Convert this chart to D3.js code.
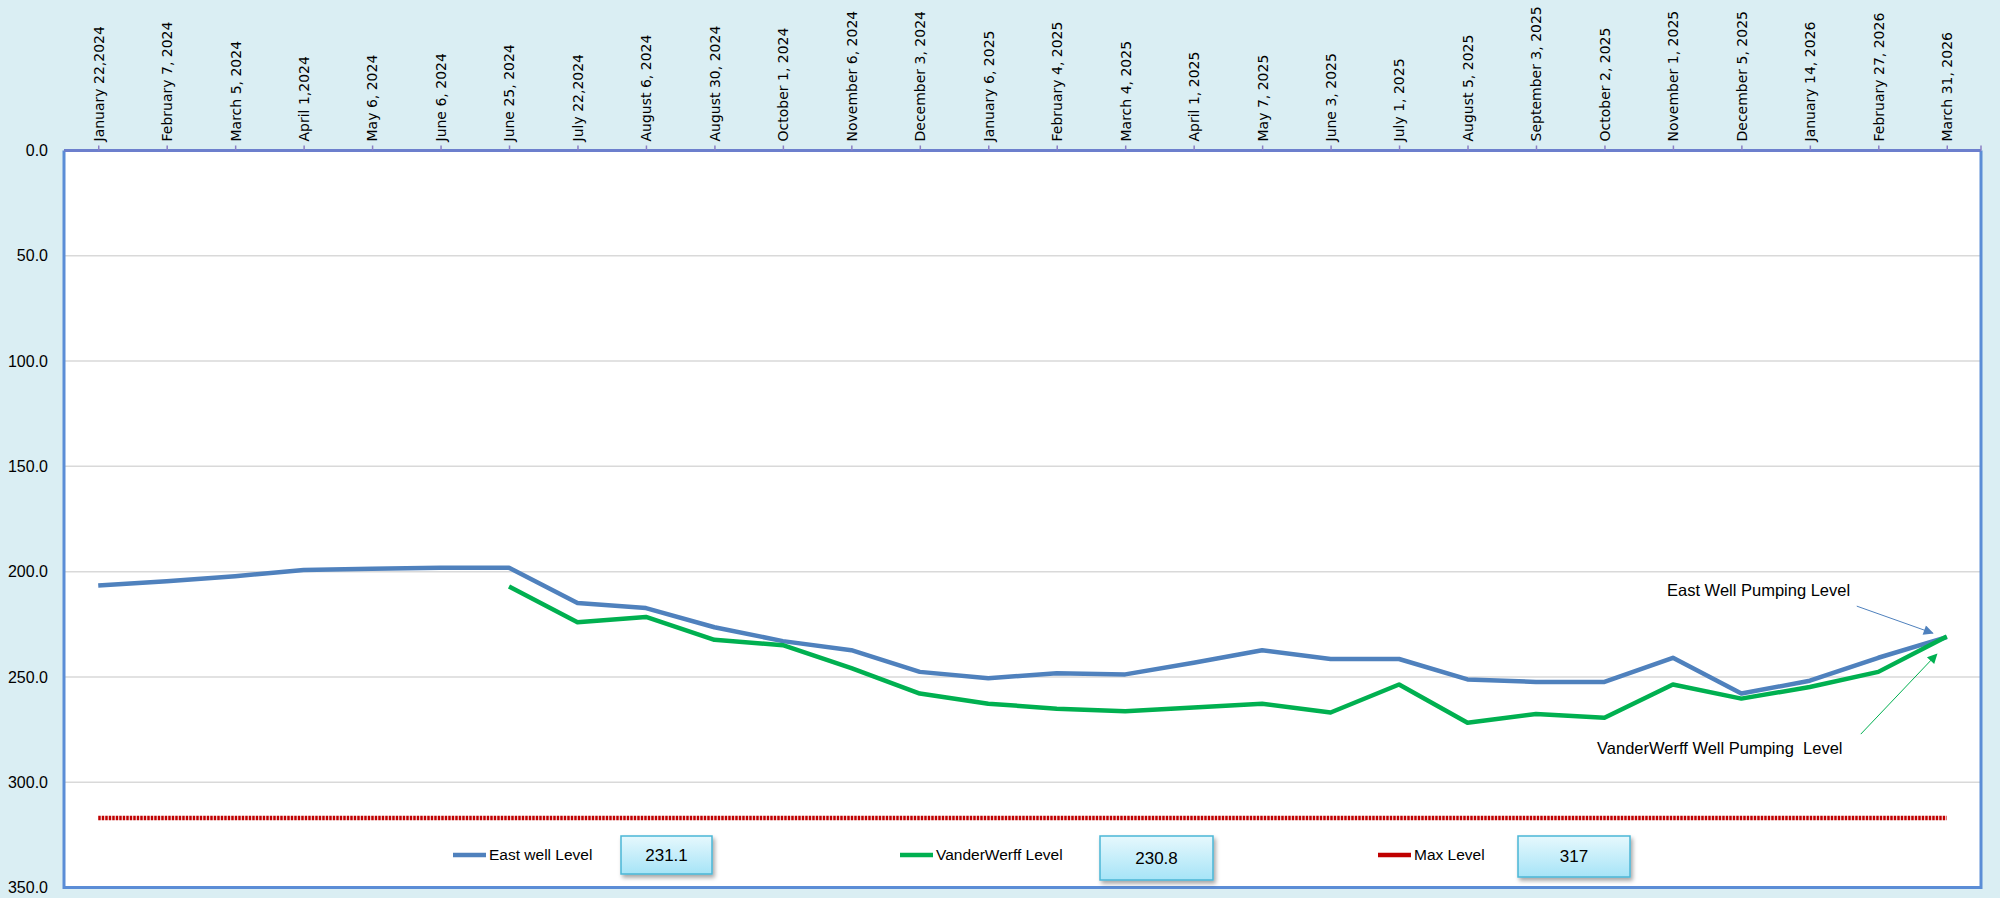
<!DOCTYPE html>
<html>
<head>
<meta charset="utf-8">
<script src="https://cdn.jsdelivr.net/npm/d3@7"></script>
<style>
  body { margin: 0; background: #DAEEF3; }
  svg { display: block; }
</style>
</head>
<body>
<div id="chart"></div>
<script>
// sample dates (category axis on top)
var dates = [
  "January 22,2024", "February 7, 2024", "March 5, 2024", "April 1,2024", "May 6, 2024",
  "June 6, 2024", "June 25, 2024", "July 22,2024", "August 6, 2024", "August 30, 2024",
  "October 1, 2024", "November 6, 2024", "December 3, 2024", "January 6, 2025", "February 4, 2025",
  "March 4, 2025", "April 1, 2025", "May 7, 2025", "June 3, 2025", "July 1, 2025",
  "August 5, 2025", "September 3, 2025", "October 2, 2025", "November 1, 2025", "December 5, 2025",
  "January 14, 2026", "February 27, 2026", "March 31, 2026"
];

// pumping levels (feet below surface)
var eastWell = [206.6, 204.6, 202.2, 199.2, 198.6, 198.2, 198.2, 214.9, 217.3, 226.4,
  233.0, 237.3, 247.6, 250.6, 248.2, 248.8, 243.3, 237.3, 241.5, 241.5,
  251.2, 252.4, 252.4, 240.9, 257.9, 251.8, 240.9, 231.1];
var vanderWerff = [null, null, null, null, null, null, 207.0, 224.0, 221.5, 232.4,
  234.9, 245.8, 257.9, 262.7, 265.1, 266.3, 264.5, 262.7, 266.9, 253.6,
  271.8, 267.6, 269.4, 253.6, 260.3, 254.8, 247.6, 230.8];
var maxLevel = 317;

var yTicks = [0, 50, 100, 150, 200, 250, 300, 350];

var legendNames = ["East well Level", "VanderWerff Level", "Max Level"];
var legendColors = ["#4F81BD", "#00B050", "#C00000"];
var legendValues = [eastWell[eastWell.length - 1], vanderWerff[vanderWerff.length - 1], maxLevel];

// chart dimensions
var width = 2000;
var height = 898;
var plot = { left: 64, right: 1981, top: 150.5, bottom: 887.5 };

var svg = d3.select('#chart')
  .append('svg')
  .attr('width', width)
  .attr('height', height);

// drop shadow for the value boxes
var defs = svg.append('defs');
var filter = defs.append('filter').attr('id', 'shadow')
  .attr('x', '-20%').attr('y', '-20%').attr('width', '150%').attr('height', '160%');
filter.append('feDropShadow')
  .attr('dx', 2).attr('dy', 3).attr('stdDeviation', 2)
  .attr('flood-color', '#000').attr('flood-opacity', 0.35);

var grad = defs.append('linearGradient').attr('id', 'boxfill')
  .attr('x1', 0).attr('y1', 0).attr('x2', 0).attr('y2', 1);
grad.append('stop').attr('offset', '0%').attr('stop-color', '#E6F8FD');
grad.append('stop').attr('offset', '100%').attr('stop-color', '#A6E4F7');

// arrow heads
[['arrowBlue', '#4F81BD'], ['arrowGreen', '#00B050']].forEach(function(m) {
  defs.append('marker')
    .attr('id', m[0])
    .attr('viewBox', '0 0 10 10')
    .attr('refX', 9).attr('refY', 5)
    .attr('markerWidth', 14).attr('markerHeight', 10)
    .attr('markerUnits', 'userSpaceOnUse')
    .attr('orient', 'auto')
    .append('path')
    .attr('d', 'M0,0 L10,5 L0,10 z')
    .attr('fill', m[1]);
});

var x = d3.scalePoint()
  .domain(dates)
  .range([plot.left, plot.right])
  .padding(0.5);

var y = d3.scaleLinear()
  .domain([0, 350])
  .range([plot.top, plot.bottom]); // depth axis: 0 at top

// plot area
svg.append('rect')
  .attr('x', plot.left).attr('y', plot.top)
  .attr('width', plot.right - plot.left)
  .attr('height', plot.bottom - plot.top)
  .attr('fill', '#fff');

// horizontal gridlines
svg.append('g')
  .selectAll('line')
  .data(yTicks.filter(function(d) { return d > 0 && d < 350; }))
  .enter()
  .append('line')
  .attr('x1', plot.left).attr('x2', plot.right)
  .attr('y1', function(d) { return y(d); })
  .attr('y2', function(d) { return y(d); })
  .attr('stroke', '#D9D9D9')
  .attr('stroke-width', 1.5);

// y axis labels
svg.append('g')
  .selectAll('text')
  .data(yTicks)
  .enter()
  .append('text')
  .attr('x', 48)
  .attr('y', function(d) { return y(d); })
  .attr('dy', '0.35em')
  .attr('text-anchor', 'end')
  .style('font', '16px "Liberation Sans", Arial, sans-serif')
  .style('fill', '#000')
  .text(function(d) { return d3.format('.1f')(d); });

// frame: left, right, bottom
svg.append('path')
  .attr('d', 'M' + plot.left + ',' + plot.top + ' V' + plot.bottom + ' H' + plot.right + ' V' + plot.top)
  .attr('fill', 'none')
  .attr('stroke', '#5B8DD6')
  .attr('stroke-width', 3);

// top category axis
var xAxis = svg.append('g')
  .attr('transform', 'translate(0,' + plot.top + ')')
  .call(d3.axisTop(x).tickSize(5).tickSizeOuter(0));

xAxis.select('.domain')
  .attr('d', 'M' + plot.left + ',0 H' + plot.right)
  .attr('stroke', '#6C7FCD')
  .attr('stroke-width', 3);

xAxis.selectAll('.tick line')
  .attr('stroke', '#8A7FC4')
  .attr('stroke-width', 1.5);

xAxis.append('line') // closing tick at the right end
  .attr('x1', plot.right).attr('x2', plot.right)
  .attr('y1', 0).attr('y2', -5)
  .attr('stroke', '#8A7FC4')
  .attr('stroke-width', 1.5);

xAxis.selectAll('.tick text')
  .attr('transform', 'rotate(-90)')
  .attr('x', 9)
  .attr('y', 0)
  .attr('dy', '0.35em')
  .style('text-anchor', 'start')
  .style('font', '14px "DejaVu Sans", Verdana, sans-serif')
  .style('fill', '#000');

// max level line
svg.append('line')
  .attr('x1', x(dates[0])).attr('x2', x(dates[dates.length - 1]))
  .attr('y1', y(maxLevel)).attr('y2', y(maxLevel))
  .attr('stroke', '#C00000')
  .attr('stroke-width', 4.5)
  .attr('stroke-dasharray', '2.5,1');

var line = d3.line()
  .defined(function(d) { return d.v != null; })
  .x(function(d) { return x(d.date); })
  .y(function(d) { return y(d.v); });

function series(values) {
  return dates.map(function(d, i) { return { date: d, v: values[i] }; });
}

svg.append('path')
  .datum(series(eastWell))
  .attr('d', line)
  .attr('fill', 'none')
  .attr('stroke', '#4F81BD')
  .attr('stroke-width', 4.5)
  .attr('stroke-linejoin', 'round');

svg.append('path')
  .datum(series(vanderWerff))
  .attr('d', line)
  .attr('fill', 'none')
  .attr('stroke', '#00B050')
  .attr('stroke-width', 4.5)
  .attr('stroke-linejoin', 'round');

// annotations pointing at the last readings
var lastX = x(dates[dates.length - 1]);
var lastY = y(eastWell[eastWell.length - 1]);

svg.append('text')
  .attr('x', 1667).attr('y', 596)
  .style('font', '16.5px "Liberation Sans", Arial, sans-serif')
  .text('East Well Pumping Level');

svg.append('line')
  .attr('x1', lastX - 90).attr('y1', lastY - 31)
  .attr('x2', lastX - 14).attr('y2', lastY - 4)
  .attr('stroke', '#4F81BD')
  .attr('stroke-width', 1)
  .attr('marker-end', 'url(#arrowBlue)');

svg.append('text')
  .attr('x', 1597).attr('y', 754)
  .style('font', '16.5px "Liberation Sans", Arial, sans-serif')
  .style('white-space', 'pre')
  .text('VanderWerff Well Pumping  Level');

svg.append('line')
  .attr('x1', lastX - 86).attr('y1', lastY + 97)
  .attr('x2', lastX - 10).attr('y2', lastY + 17)
  .attr('stroke', '#00B050')
  .attr('stroke-width', 1)
  .attr('marker-end', 'url(#arrowGreen)');

// legend with value boxes
var legendY = 855;
var legendX = [453, 900, 1378]; // start of each legend swatch
var boxX = [621, 1100, 1518];
var boxW = [91, 113, 112];
var boxH = [38, 44, 41];

var legend = svg.selectAll('.legend')
  .data(legendNames)
  .enter()
  .append('g')
  .attr('class', 'legend');

legend.append('line')
  .attr('x1', function(d, i) { return legendX[i]; })
  .attr('x2', function(d, i) { return legendX[i] + 33; })
  .attr('y1', legendY).attr('y2', legendY)
  .attr('stroke', function(d, i) { return legendColors[i]; })
  .attr('stroke-width', 4.5);

legend.append('text')
  .attr('x', function(d, i) { return legendX[i] + 36; })
  .attr('y', legendY)
  .attr('dy', '0.35em')
  .style('font', '15.5px "Liberation Sans", Arial, sans-serif')
  .text(function(d) { return d; });

legend.append('rect')
  .attr('x', function(d, i) { return boxX[i]; })
  .attr('y', 836)
  .attr('width', function(d, i) { return boxW[i]; })
  .attr('height', function(d, i) { return boxH[i]; })
  .attr('fill', 'url(#boxfill)')
  .attr('stroke', '#4BB6D6')
  .attr('stroke-width', 1.5)
  .attr('filter', 'url(#shadow)');

legend.append('text')
  .attr('x', function(d, i) { return boxX[i] + boxW[i] / 2; })
  .attr('y', function(d, i) { return 836 + boxH[i] / 2; })
  .attr('dy', '0.35em')
  .attr('text-anchor', 'middle')
  .style('font', '17px "Liberation Sans", Arial, sans-serif')
  .text(function(d, i) { return legendValues[i]; });
</script>
</body>
</html>
